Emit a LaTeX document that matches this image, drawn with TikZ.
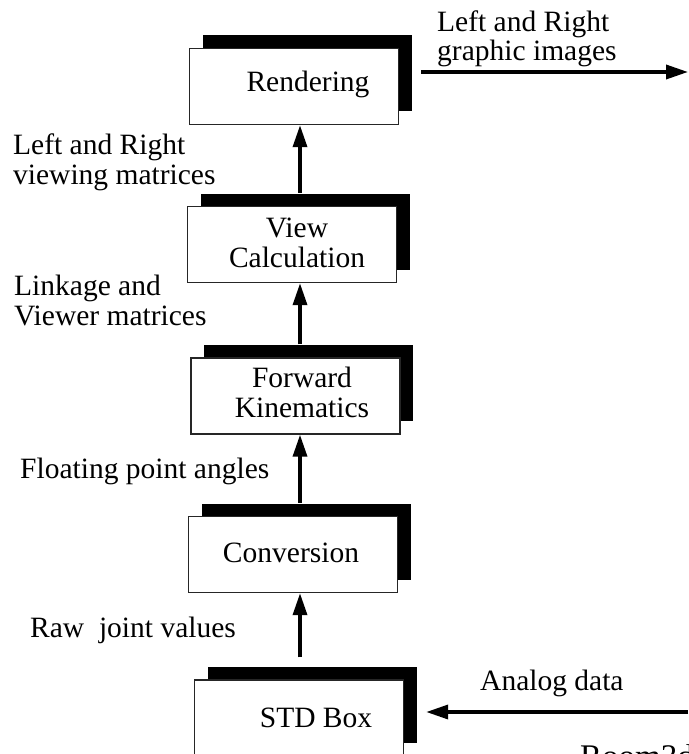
\documentclass[tikz,border=0pt]{standalone}
\usepackage{fontspec}
\setmainfont{Liberation Serif}
\usetikzlibrary{arrows.meta,shadows,calc}

\begin{document}
\begin{tikzpicture}[x=1pt,y=-1pt,
  font=\fontsize{29.5}{29.5}\selectfont,
  box/.style={draw=black!85, line width=1.4pt, fill=white,
    minimum width=209pt, minimum height=76pt, inner sep=0pt,
    drop shadow={shadow xshift=13pt, shadow yshift=13pt, fill=black, opacity=1}},
  boxtext/.style={anchor=base, align=center, inner sep=0pt},
  note/.style={anchor=base west, align=left, inner sep=0pt},
  arr/.style={line width=3.5pt, -{Triangle[length=22pt,width=14pt]}}]

% page background and fixed frame
\fill[white] (0,0) rectangle (688,754);
\useasboundingbox (0,0) rectangle (688,754);

% x position of the vertical data path
\coordinate (spine) at (300,0);

% processing stages (white boxes with solid black shadows)
\node[box] (rend) at (294,86.5) {};
\node[box] (view) at (292,244.5) {};
\node[box] (fwd)  at (295.5,396) {};
\node[box] (conv) at (293,554.5) {};
\node[box] (std)  at (299,718) {};

% stage names (base anchor = baseline of the last line)
\node[boxtext] (rendtxt) at (308,92)  {Rendering};
\node[boxtext] (viewtxt) at (297,267) {View\\Calculation};
\node[boxtext] (fwdtxt)  at (302,417) {Forward\\Kinematics};
\node[boxtext] (convtxt) at (291,562) {Conversion};
\node[boxtext] (stdtxt)  at (316,727) {STD Box};

% data flow between stages
\draw[arr] ($(spine |- std.north)+(0,-22)$)  -- (spine |- conv.south);
\draw[arr] ($(spine |- conv.north)+(0,-13)$) -- (spine |- fwd.south);
\draw[arr] ($(spine |- fwd.north)+(0,-13)$)  -- (spine |- view.south);
\draw[arr] ($(spine |- view.north)+(0,-13)$) -- (spine |- rend.south);

% external input and output
\coordinate (imgout) at (688,72);
\coordinate (analogin) at (688,712);
\draw[arr] ($(rend.east |- imgout)+(22,0)$) -- (imgout);
\draw[arr] (analogin) -- ($(std.east |- analogin)+(22,0)$);

% data labels
\node[note] (lblimg)   at (437,61)  {Left and Right\\graphic images};
\node[note] (lblview)  at (13,184)  {Left and Right\\viewing matrices};
\node[note] (lbllink)  at (14,325)  {Linkage and\\Viewer matrices};
\node[note] (lblfloat) at (20,478)  {Floating point angles};
\node[note] (lblraw)   at (30,637)  {Raw\ \ joint values};
\node[note] (lblanalog) at (480,690) {Analog data};
\node[note, font=\fontsize{33}{33}\selectfont] (lblroom) at (580,767) {Room3d};
\end{tikzpicture}
\end{document}
